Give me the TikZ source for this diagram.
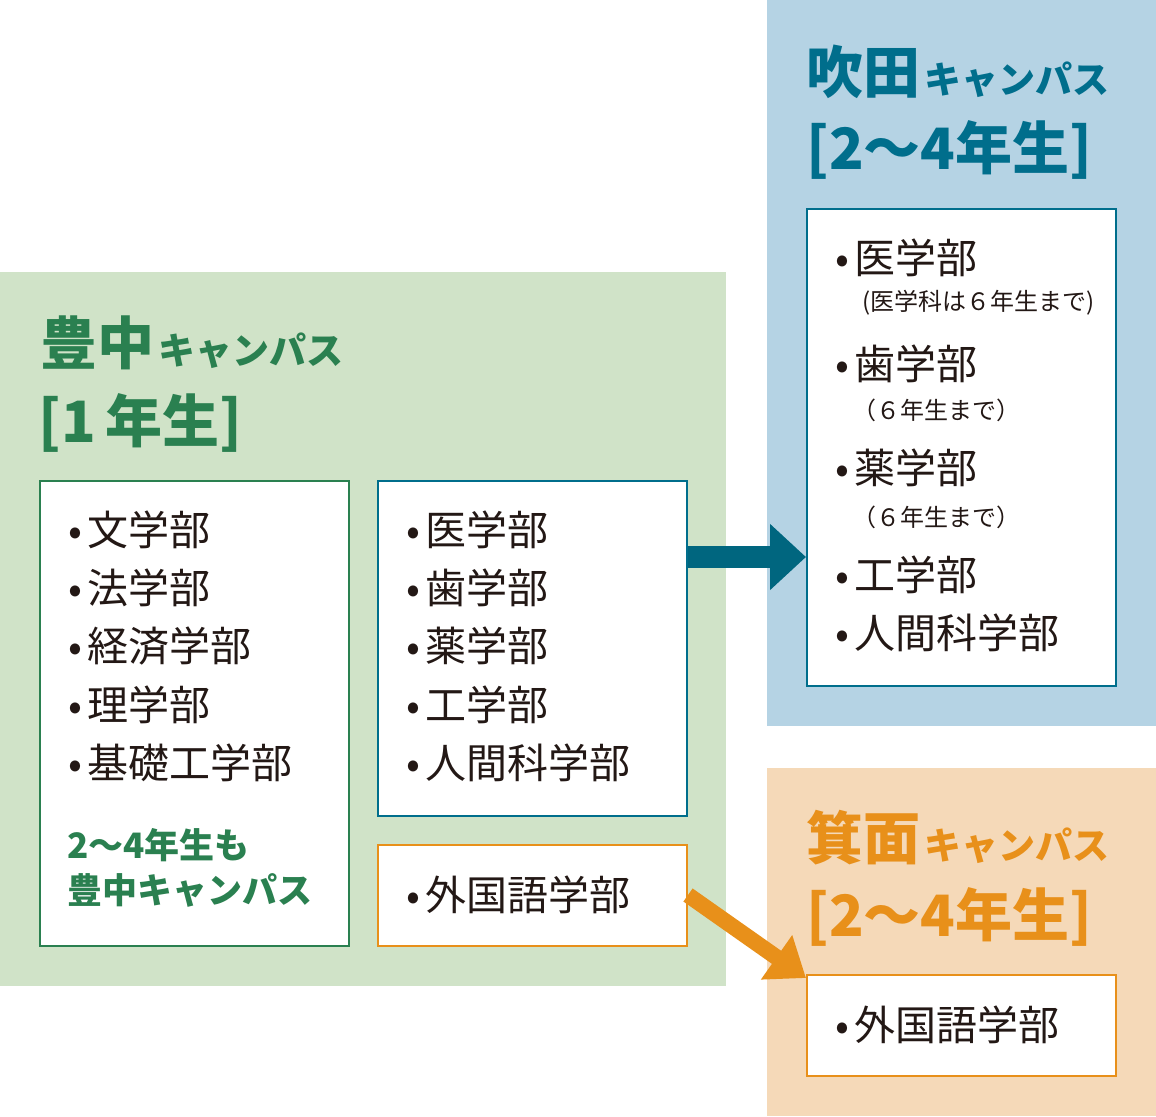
\documentclass[tikz,border=0pt]{standalone}
\usepackage{fontspec}
\setmainfont{Noto Sans CJK JP}
\usetikzlibrary{arrows.meta}
\definecolor{gbg}{HTML}{D0E3C8}\definecolor{gtx}{HTML}{2A8050}
\definecolor{bbg}{HTML}{B5D3E4}\definecolor{btx}{HTML}{006E8C}\definecolor{barr}{HTML}{00667F}
\definecolor{obg}{HTML}{F5D9B8}\definecolor{otx}{HTML}{E8901A}
\definecolor{tx}{HTML}{231815}
\newcommand{\mykata}[1]{{\bfseries\fontsize{37}{39}\selectfont\hspace{4pt}#1}}
\begin{document}
\begin{tikzpicture}[x=1pt,y=-1pt,
 item/.style={anchor=west,inner sep=0,font=\fontsize{41}{43}\selectfont,text=tx},
 note/.style={anchor=west,inner sep=0,font=\fontsize{24}{26}\selectfont,text=tx},
 big/.style={anchor=west,inner sep=0,font=\bfseries\fontsize{57}{59}\selectfont},
 gnote/.style={anchor=west,inner sep=0,text=gtx,font=\bfseries\fontsize{35}{37}\selectfont},
 box/.style={fill=white,line width=1.5pt}]
\useasboundingbox (0,0) rectangle (1156,1116);
\fill[gbg] (0,272) rectangle (726,986);
\fill[bbg] (767,0) rectangle (1156,726);
\fill[obg] (767,768) rectangle (1156,1116);
\draw[box,draw=gtx] (40,481) rectangle (349,946);
\draw[box,draw=btx] (378,481) rectangle (687,816);
\draw[box,draw=otx] (378,845) rectangle (687,946);
\draw[box,draw=btx] (807,209) rectangle (1116,686);
\draw[box,draw=otx] (807,975) rectangle (1116,1076);
\coordinate (a1) at (688,557); \coordinate (a2) at (806,557);
\draw[barr,line width=22pt,-{Triangle[length=36pt,width=64pt]}] (a1) -- (a2);
\coordinate (o1) at (688,895); \coordinate (o2) at (806,978);
\draw[otx,line width=16pt,-{Triangle[length=36pt,width=52pt]}] (o1) -- (o2);
% titles
\node[big,text=gtx] (t1) at (40,343) {豊中\mykata{キャンパス}};
\node[big,text=gtx] (t1b) at (38,423) {[1\,年生]};
\node[big,text=btx] (t2) at (806,72) {吹田\mykata{キャンパス}};
\node[big,text=btx] (t2b) at (806,150) {[2～4年生]};
\node[big,text=otx] (t3) at (806,838) {箕面\mykata{キャンパス}};
\node[big,text=otx] (t3b) at (806,917) {[2～4年生]};
% left list
\foreach \t/\y [count=\i] in {文学部/530,法学部/588,経済学部/646,理学部/705,基礎工学部/763}
  \node[item] (l\i) at (68,\y) {•\hspace{5pt}\t};
\node[gnote] (lg1) at (67,845) {2～4年生も};
\node[gnote] (lg2) at (67,890) {豊中キャンパス};
\foreach \t/\y [count=\i] in {医学部/530,歯学部/588,薬学部/646,工学部/705,人間科学部/763}
  \node[item] (m\i) at (406,\y) {•\hspace{5pt}\t};
\node[item] (f1) at (406,895) {•\hspace{5pt}外国語学部};
\node[item] (f2) at (835,1025) {•\hspace{5pt}外国語学部};
% blue list
\node[item] (b1) at (835,258) {•\hspace{5pt}医学部};
\node[note] (n1) at (862,303) {(医学科は６年生まで)};
\node[item] (b2) at (835,364) {•\hspace{5pt}歯学部};
\node[note] (n2) at (852,410) {（６年生まで）};
\node[item] (b3) at (835,468) {•\hspace{5pt}薬学部};
\node[note] (n3) at (852,517) {（６年生まで）};
\node[item] (b4) at (835,575) {•\hspace{5pt}工学部};
\node[item] (b5) at (835,633) {•\hspace{5pt}人間科学部};
\end{tikzpicture}
\end{document}
